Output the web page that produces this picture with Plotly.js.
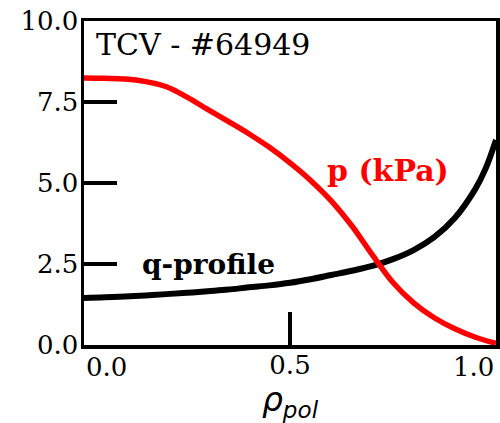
<!DOCTYPE html>
<html><head><meta charset="utf-8">
<script src="https://cdn.plot.ly/plotly-3.0.1.min.js"></script>
<style>html,body{margin:0;padding:0;background:#fff}</style>
</head><body><div id="chart" style="width:500px;height:423px"></div>
<script>
// pressure profile p (kPa) vs rho_pol
const rhoP = [0, 0.05, 0.10, 0.15, 0.20, 0.25, 0.30, 0.35, 0.40, 0.45, 0.50, 0.55, 0.60, 0.65, 0.70, 0.75, 0.80, 0.85, 0.90, 0.95, 1.0];
const pKPa = [8.24, 8.23, 8.21, 8.13, 7.97, 7.65, 7.27, 6.90, 6.52, 6.10, 5.62, 5.08, 4.45, 3.68, 2.78, 1.93, 1.30, 0.84, 0.50, 0.24, 0.05];
// safety factor q-profile vs rho_pol
const rhoQ = [0, 0.05, 0.10, 0.15, 0.20, 0.25, 0.30, 0.35, 0.40, 0.45, 0.50, 0.55, 0.60, 0.65, 0.70, 0.75, 0.80, 0.85, 0.90, 0.95, 0.975, 1.0];
const qVals = [1.45, 1.47, 1.50, 1.53, 1.57, 1.61, 1.66, 1.71, 1.78, 1.84, 1.92, 2.03, 2.16, 2.29, 2.44, 2.65, 2.93, 3.33, 3.92, 4.82, 5.45, 6.33];
// ticks
const xTickVals = [0, 0.5, 1.0];
const xTickText = ['0.0', '0.5', '1.0'];
const yTickVals = [0, 2.5, 5, 7.5, 10];
const yTickText = ['0.0', '2.5', '5.0', '7.5', '10.0'];

const serif = 'DejaVu Serif';
const tickFont = {family: serif, size: 26, color: '#000'};
const axBase = {
  showgrid: false, zeroline: false, showline: true, linecolor: '#000', linewidth: 3.5,
  mirror: true, ticks: 'inside', ticklen: 33, tickwidth: 3.5, tickcolor: '#000',
  tickfont: tickFont
};

const traces = [
  {x: rhoQ, y: qVals, mode: 'lines', line: {color: '#000', width: 6, shape: 'spline'}, hoverinfo: 'skip'},
  {x: rhoP, y: pKPa, mode: 'lines', line: {color: '#ff0000', width: 5.5, shape: 'spline'}, hoverinfo: 'skip'}
];

// end tick labels sit inside the axis span (left-aligned at 0, right-aligned at 1)
const edgeLabels = [0, 2].map(i => ({
  x: xTickVals[i], y: 0, xref: 'x', yref: 'paper', yanchor: 'top',
  xanchor: i === 0 ? 'left' : 'right', yshift: -5, showarrow: false,
  text: xTickText[i], font: tickFont
}));

const layout = {
  width: 500, height: 423,
  margin: {l: 84, r: 4, t: 21, b: 78},
  paper_bgcolor: '#fff', plot_bgcolor: '#fff',
  showlegend: false,
  xaxis: Object.assign({}, axBase, {
    range: [0, 1], tickvals: xTickVals, ticktext: ['', xTickText[1], ''],
    automargin: false, ticklabelstandoff: -6,
    title: {text: '<i>ρ<sub>pol</sub></i>', font: {family: 'DejaVu Sans', size: 33, color: '#000'}}
  }),
  yaxis: Object.assign({}, axBase, {range: [0, 10], tickvals: yTickVals, ticktext: yTickText,
    automargin: false, ticklabelstandoff: -3}),
  annotations: edgeLabels.concat([
    {x: 0.025, y: 9.26, xref: 'x', yref: 'y', xanchor: 'left', yanchor: 'middle', showarrow: false,
     text: 'TCV - #64949', font: {family: serif, size: 30, color: '#000'}},
    {x: 0.739, y: 5.4, xref: 'x', yref: 'y', xanchor: 'center', yanchor: 'middle', showarrow: false,
     text: '<b>p (kPa)</b>', font: {family: serif, size: 30, color: '#ff0000'}},
    {x: 0.303, y: 2.47, xref: 'x', yref: 'y', xanchor: 'center', yanchor: 'middle', showarrow: false,
     text: '<b>q-profile</b>', font: {family: serif, size: 28, color: '#000'}}
  ])
};
Plotly.newPlot('chart', traces, layout, {staticPlot: true, displayModeBar: false});
</script></body></html>
